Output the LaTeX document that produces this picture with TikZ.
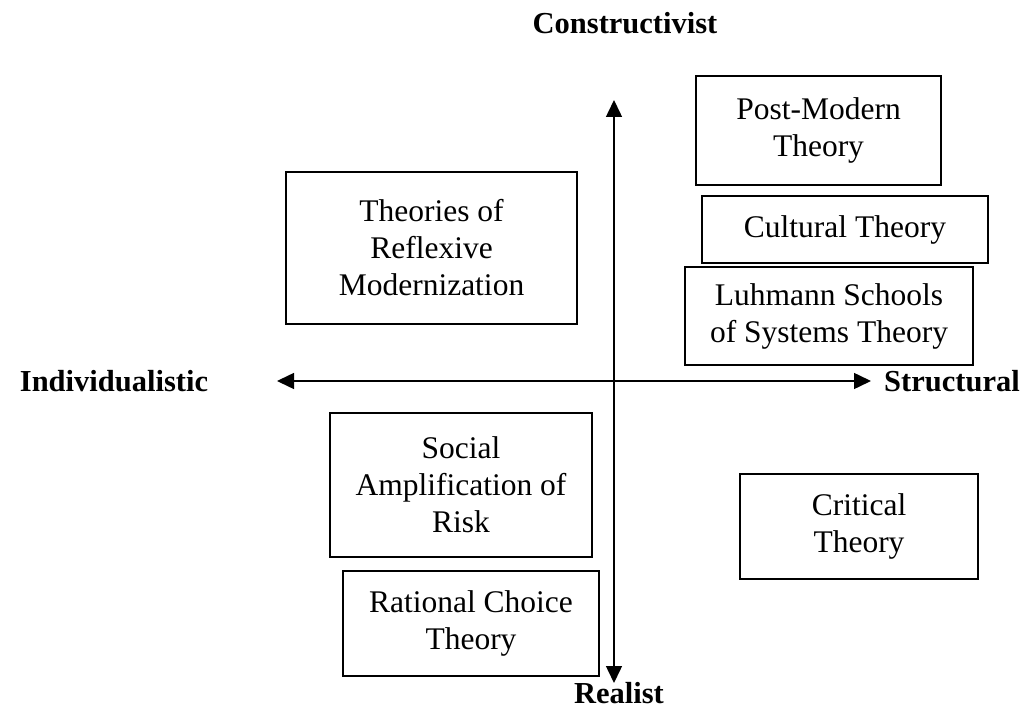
\documentclass[tikz,border=0pt]{standalone}
\usepackage{fontspec}
\setmainfont{Liberation Serif}
\usetikzlibrary{arrows.meta}
\tikzset{
  box/.style={draw, line width=2.2pt, inner sep=0pt, align=center,
    font=\fontsize{31.5}{37}\selectfont},
  axislabel/.style={inner sep=0pt, font=\fontsize{30.5}{36}\selectfont\bfseries},
  axis/.style={line width=1.5pt, {Triangle[length=17pt,width=16pt]}-{Triangle[length=17pt,width=16pt]}}
}
\begin{document}
\begin{tikzpicture}[x=1pt,y=-1pt]
\useasboundingbox (0,0) rectangle (1026,711);
% axes
\coordinate (top) at (614,100);
\coordinate (bot) at (614,683);
\coordinate (lft) at (277,381);
\coordinate (rgt) at (871,381);
\draw[axis] (bot) -- (top);
\draw[axis] (lft) -- (rgt);
% axis labels
\node[axislabel] (cons) at (625,23) {Constructivist};
\node[axislabel] (real) at (619,693) {Realist};
\node[axislabel] (indiv) at (114,381) {Individualistic};
\node[axislabel] (struc) at (952,381) {Structural};
% boxes
\node[box, minimum width=245, minimum height=109] (pm) at (818.5,130.5) {Post-Modern\\Theory};
\node[box, minimum width=286, minimum height=67] (ct) at (845,229.5) {Cultural Theory};
\node[box, minimum width=288, minimum height=98] (lu) at (829,316) {Luhmann Schools\\of Systems Theory};
\node[box, minimum width=291, minimum height=152] (tr) at (431.5,248) {Theories of\\Reflexive\\Modernization};
\node[box, minimum width=262, minimum height=144] (sa) at (461,485) {Social\\Amplification of\\Risk};
\node[box, minimum width=256, minimum height=105] (rc) at (471,623.5) {Rational Choice\\Theory};
\node[box, minimum width=238, minimum height=105] (cr) at (859,526.5) {Critical\\Theory};
\end{tikzpicture}
\end{document}
